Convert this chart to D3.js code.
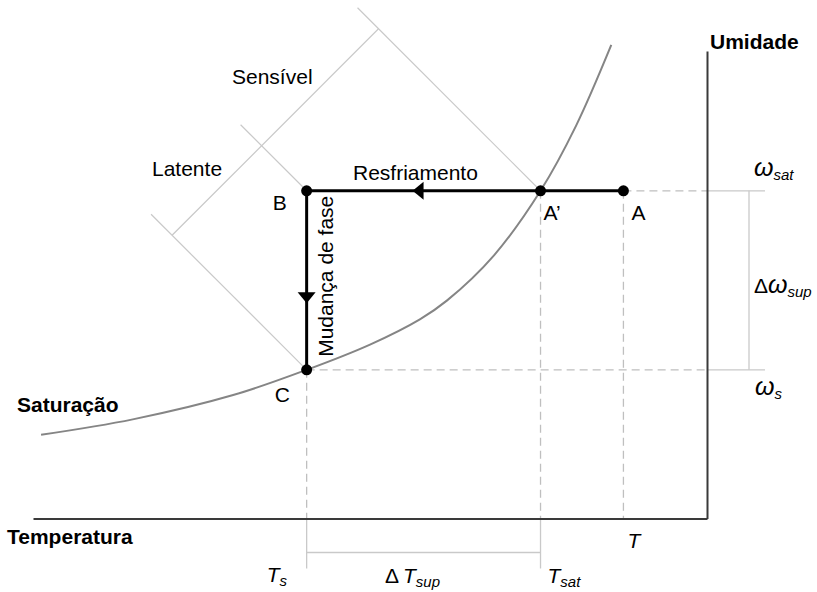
<!DOCTYPE html>
<html>
<head>
<meta charset="utf-8">
<script src="https://cdn.jsdelivr.net/npm/d3@7"></script>
<style>
  html, body { margin: 0; padding: 0; background: #fff; }
  svg { display: block; font-family: "Liberation Sans", Arial, Helvetica, sans-serif; }
</style>
</head>
<body>
<script>
// Saturation curve (temperature, humidity) in chart units
const satCurveT = [1.2, 14.8, 29.7, 40.6, 50.0, 57.4, 61.4, 68.4, 75.3, 80.6, 85.8];
const satCurveW = [17.9, 21.2, 26.4, 31.8, 37.2, 42.6, 46.6, 56.3, 70.1, 84.1, 101.3];

// Process states
const stateNames = ["A", "A’", "B", "C"];
const stateT = [87.6, 75.3, 40.6, 40.6];
const stateW = [70.1, 70.1, 70.1, 31.8];

// Reference temperatures and humidities
const tempRefs = [40.6, 75.3, 87.6];        // T_s, T_sat, T
const humRefs = [31.8, 70.1];               // ω_s, ω_sat

const W = 817, H = 592;
const svg = d3.select("body").append("svg").attr("width", W).attr("height", H);

const x = d3.scaleLinear().domain([0, 100]).range([33, 707]);
const y = d3.scaleLinear().domain([0, 100]).range([518.5, 51]);

const states = stateNames.map((n, i) => ({ name: n, t: stateT[i], w: stateW[i] }));
const S = Object.fromEntries(states.map(d => [d.name, d]));
const [Ts, Tsat, Tamb] = tempRefs;
const [Ws, Wsat] = humRefs;

const lightGray = "#c9c9c9";
const dashGray = "#bfbfbf";

// ---- dashed guides inside the plot ----
const guides = svg.append("g").attr("stroke", dashGray).attr("stroke-width", 1.3)
  .attr("stroke-dasharray", "8,5").attr("fill", "none");
guides.append("line").attr("x1", x(Tamb)).attr("x2", x(100)).attr("y1", y(Wsat)).attr("y2", y(Wsat));
guides.append("line").attr("x1", x(Ts)).attr("x2", x(100)).attr("y1", y(Ws)).attr("y2", y(Ws));
guides.append("line").attr("x1", x(Ts)).attr("x2", x(Ts)).attr("y1", y(Ws)).attr("y2", y(0));
guides.append("line").attr("x1", x(Tsat)).attr("x2", x(Tsat)).attr("y1", y(Wsat)).attr("y2", y(0));
guides.append("line").attr("x1", x(Tamb)).attr("x2", x(Tamb)).attr("y1", y(Wsat)).attr("y2", y(0));

// ---- solid extension lines and dimension brackets outside the plot ----
const ext = svg.append("g").attr("stroke", lightGray).attr("stroke-width", 1.3).attr("fill", "none");
const rightEnd = x(100) + 58, bracketX = x(100) + 42;
const bottomEnd = y(0) + 50, bracketY = y(0) + 34;
ext.append("line").attr("x1", x(100)).attr("x2", rightEnd).attr("y1", y(Wsat)).attr("y2", y(Wsat));
ext.append("line").attr("x1", x(100)).attr("x2", rightEnd).attr("y1", y(Ws)).attr("y2", y(Ws));
ext.append("line").attr("x1", bracketX).attr("x2", bracketX).attr("y1", y(Wsat)).attr("y2", y(Ws));
ext.append("line").attr("x1", x(Ts)).attr("x2", x(Ts)).attr("y1", y(0)).attr("y2", bottomEnd);
ext.append("line").attr("x1", x(Tsat)).attr("x2", x(Tsat)).attr("y1", y(0)).attr("y2", bottomEnd);
ext.append("line").attr("x1", x(Ts)).attr("x2", x(Tsat)).attr("y1", bracketY).attr("y2", bracketY);

// ---- 45° energy lines (sensible / latent) ----
const diag = svg.append("g").attr("stroke", lightGray).attr("stroke-width", 1.2).attr("fill", "none");
const aP = S["A’"];
const reach = 162;           // distance of the cross line from A' along the diagonal
const over = 21;             // overshoot beyond the cross line
const crossK = x(aP.t) + y(aP.w) - 2 * reach;
const crossPts = [];
["A’", "B", "C"].forEach(n => {
  const px = x(S[n].t), py = y(S[n].w);
  const d = (px + py - crossK) / 2;
  crossPts.push([px - d, py - d]);
  diag.append("line").attr("x1", px).attr("y1", py).attr("x2", px - d - over).attr("y2", py - d - over);
});
diag.append("line").attr("x1", crossPts[0][0]).attr("y1", crossPts[0][1])
  .attr("x2", crossPts[2][0]).attr("y2", crossPts[2][1]);

// ---- axes (no ticks) ----
const axisStyle = g => {
  g.select(".domain").attr("stroke", "#3a3a3a").attr("stroke-width", 2);
  g.selectAll(".tick").remove();
};
svg.append("g").attr("transform", `translate(0,${y(0)})`)
  .call(d3.axisBottom(x).tickValues([]).tickSizeOuter(0)).call(axisStyle);
svg.append("g").attr("transform", `translate(${x(100)},0)`)
  .call(d3.axisLeft(y).tickValues([]).tickSizeOuter(0)).call(axisStyle);

// ---- saturation curve ----
const curveData = satCurveT.map((t, i) => [t, satCurveW[i]]);
svg.append("path").datum(curveData)
  .attr("fill", "none").attr("stroke", "#858585").attr("stroke-width", 2)
  .attr("d", d3.line().x(d => x(d[0])).y(d => y(d[1])).curve(d3.curveCatmullRom.alpha(0.5)));

// ---- process path A -> B -> C ----
const proc = svg.append("g").attr("stroke", "#000").attr("stroke-width", 3).attr("fill", "none");
proc.append("line").attr("x1", x(S["A"].t)).attr("x2", x(S["B"].t)).attr("y1", y(S["A"].w)).attr("y2", y(S["B"].w));
proc.append("line").attr("x1", x(S["B"].t)).attr("x2", x(S["C"].t)).attr("y1", y(S["B"].w)).attr("y2", y(S["C"].w));

// arrowheads
const headLen = 11, headHalf = 9;
const hx = x(aP.t) - 0.547 * (x(aP.t) - x(S["B"].t)), hy = y(S["B"].w);
svg.append("path").attr("fill", "#000")
  .attr("d", `M${hx},${hy}L${hx + headLen},${hy - headHalf}L${hx + headLen},${hy + headHalf}Z`);
const vx = x(S["B"].t), vy = y(S["B"].w) + 0.628 * (y(S["C"].w) - y(S["B"].w));
svg.append("path").attr("fill", "#000")
  .attr("d", `M${vx},${vy}L${vx - headHalf},${vy - headLen}L${vx + headHalf},${vy - headLen}Z`);

// state points
svg.append("g").selectAll("circle").data(states).join("circle")
  .attr("cx", d => x(d.t)).attr("cy", d => y(d.w)).attr("r", 5.5).attr("fill", "#000");

// ---- text ----
const txt = (xx, yy, s, opts = {}) => svg.append("text")
  .attr("x", xx).attr("y", yy)
  .attr("font-size", opts.size || 21)
  .attr("font-weight", opts.bold ? "bold" : null)
  .attr("font-style", opts.italic ? "italic" : null)
  .attr("text-anchor", opts.anchor || "start")
  .attr("fill", "#000")
  .text(s);

txt(x(100) + 3, 49, "Umidade", { bold: true });
txt(7, 543.5, "Temperatura", { bold: true });
txt(17, 412, "Saturação", { bold: true });
txt(232, 83.5, "Sensível");
txt(152, 175.5, "Latente");
txt(353, 179.5, "Resfriamento");

// state labels
txt(x(S["B"].t) - 34, y(S["B"].w) + 19, "B");
txt(x(S["C"].t) - 32, y(S["C"].w) + 32, "C");
txt(x(aP.t) + 3, y(aP.w) + 29, "A’");
txt(x(S["A"].t) + 8, y(S["A"].w) + 29, "A");

// vertical process label
svg.append("text")
  .attr("transform", `translate(${x(S["C"].t) + 26},${y(S["C"].w) - 13}) rotate(-90)`)
  .attr("font-size", 21).attr("fill", "#000").text("Mudança de fase");

// symbol with subscript
const sym = (xx, yy, main, sub, opts = {}) => {
  const t = svg.append("text").attr("x", xx).attr("y", yy)
    .attr("font-size", 21).attr("font-style", "italic").attr("fill", "#000");
  if (opts.delta) t.append("tspan").attr("font-style", "normal").text(opts.delta);
  t.append("tspan").attr("font-size", opts.mainSize || 21).attr("dx", opts.gap || 0).text(main);
  if (sub) t.append("tspan").attr("font-size", 15).attr("dy", 4).text(sub);
  return t;
};

sym(x(100) + 47, y(Wsat) - 15, "ω", "sat", { mainSize: 25 });
sym(x(100) + 47, 292.5, "ω", "sup", { delta: "Δ", mainSize: 25 });
sym(x(100) + 48, y(Ws) + 25, "ω", "s", { mainSize: 25 });
txt(x(Tamb) + 4, y(0) + 29.5, "T", { italic: true });
sym(x(Ts) - 40, 581.7, "T", "s");
sym(385, 583, "T", "sup", { delta: "Δ", gap: 4 });
sym(x(Tsat) + 7, 583, "T", "sat");
</script>
</body>
</html>
